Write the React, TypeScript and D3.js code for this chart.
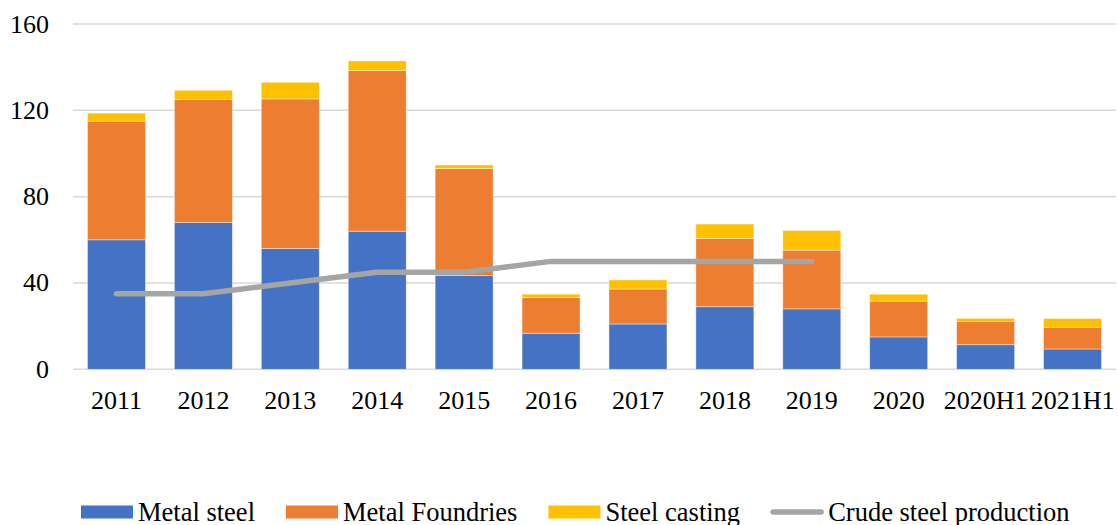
import { useEffect, useRef } from "react";
import * as d3 from "d3";

const categories = ["2011", "2012", "2013", "2014", "2015", "2016", "2017", "2018", "2019", "2020", "2020H1", "2021H1"];
const metalSteel = [60, 68, 56, 64, 43.4, 16.7, 21, 29, 28, 15, 11.4, 9.4];
const metalFoundries = [55, 57, 69.3, 74.4, 49.6, 16.5, 16.2, 31.7, 27.2, 16.6, 10.7, 10.1];
const steelCasting = [3.7, 4.3, 7.7, 4.5, 1.7, 1.6, 4.2, 6.6, 9.1, 3.2, 1.5, 4];
const crudeSteel: (number | null)[] = [35, 35, 40, 45, 45, 50, 50, 50, 50, null, null, null];
const yTicks = [0, 40, 80, 120, 160];

const seriesNames = ["Metal steel", "Metal Foundries", "Steel casting"];
const lineName = "Crude steel production";
const colors = ["#4472C4", "#ED7D31", "#FFC000"];
const lineColor = "#A5A5A5";

const W = 1118;
const H = 525;
const FONT = "'Liberation Serif', 'Times New Roman', serif";

const App = () => {
  const ref = useRef<SVGSVGElement | null>(null);

  useEffect(() => {
    const svg = d3.select(ref.current);
    svg.selectAll("*").remove();

    const left = 73;
    const right = 1116;
    const top = 24;
    const bottom = 369.3;

    const x = d3.scaleBand<string>().domain(categories).range([left, right]).paddingInner(0.333).paddingOuter(0.1665);
    const y = d3.scaleLinear().domain([0, 160]).range([bottom, top]);

    // gridlines
    svg
      .append("g")
      .selectAll("line")
      .data(yTicks)
      .enter()
      .append("line")
      .attr("x1", left)
      .attr("x2", right)
      .attr("y1", (d) => y(d))
      .attr("y2", (d) => y(d))
      .attr("stroke", "#D9D9D9")
      .attr("stroke-width", 1.5);

    // y labels
    svg
      .append("g")
      .selectAll("text")
      .data(yTicks)
      .enter()
      .append("text")
      .attr("x", 49)
      .attr("y", (d) => y(d) + 8.5)
      .attr("text-anchor", "end")
      .attr("font-family", FONT)
      .attr("font-size", "26px")
      .attr("fill", "#000")
      .text((d) => String(d));

    // stacked bars
    const rows = categories.map((c, i) => ({
      cat: c,
      s0: metalSteel[i],
      s1: metalFoundries[i],
      s2: steelCasting[i],
    }));
    const stack = d3.stack<(typeof rows)[number]>().keys(["s0", "s1", "s2"]);
    const layers = stack(rows);

    layers.forEach((layer, li) => {
      svg
        .append("g")
        .selectAll("rect")
        .data(layer)
        .enter()
        .append("rect")
        .attr("x", (d) => x(d.data.cat)!)
        .attr("width", x.bandwidth())
        .attr("y", (d) => y(d[1]))
        .attr("height", (d) => y(d[0]) - y(d[1]))
        .attr("fill", colors[li])
        .attr("stroke", "#fff")
        .attr("stroke-opacity", 0.5)
        .attr("stroke-width", 0.8);
    });

    // line
    const line = d3
      .line<number | null>()
      .defined((d) => d !== null)
      .x((_, i) => x(categories[i])! + x.bandwidth() / 2)
      .y((d) => y(d as number));

    svg
      .append("path")
      .datum(crudeSteel)
      .attr("d", line)
      .attr("fill", "none")
      .attr("stroke", lineColor)
      .attr("stroke-width", 5.5)
      .attr("stroke-linecap", "round")
      .attr("stroke-linejoin", "round");

    // x labels
    svg
      .append("g")
      .selectAll("text")
      .data(categories)
      .enter()
      .append("text")
      .attr("x", (d) => x(d)! + x.bandwidth() / 2)
      .attr("y", 408.5)
      .attr("text-anchor", "middle")
      .attr("font-family", FONT)
      .attr("font-size", "26px")
      .attr("fill", "#000")
      .text((d) => d);

    // legend
    const legend = svg.append("g");
    let cx = 81;
    const ly = 512;
    const items = [...seriesNames.map((n, i) => ({ name: n, color: colors[i], kind: "rect" })), { name: lineName, color: lineColor, kind: "line" }];
    items.forEach((it) => {
      if (it.kind === "rect") {
        legend.append("rect").attr("x", cx).attr("y", ly - 6.5).attr("width", 52).attr("height", 13).attr("fill", it.color);
      } else {
        legend
          .append("line")
          .attr("x1", cx + 2)
          .attr("x2", cx + 50)
          .attr("y1", ly)
          .attr("y2", ly)
          .attr("stroke", it.color)
          .attr("stroke-width", 5.5)
          .attr("stroke-linecap", "round");
      }
      const t = legend
        .append("text")
        .attr("x", cx + 57)
        .attr("y", ly + 8.5)
        .attr("font-family", FONT)
        .attr("font-size", "26.5px")
        .attr("fill", "#000")
        .text(it.name);
      const w = (t.node() as SVGTextElement).getComputedTextLength();
      cx = cx + 57 + w + 31;
    });
  }, []);

  return <svg ref={ref} width={W} height={H} style={{ position: "absolute", left: 0, top: 0, background: "#fff" }} />;
};

export default App;
